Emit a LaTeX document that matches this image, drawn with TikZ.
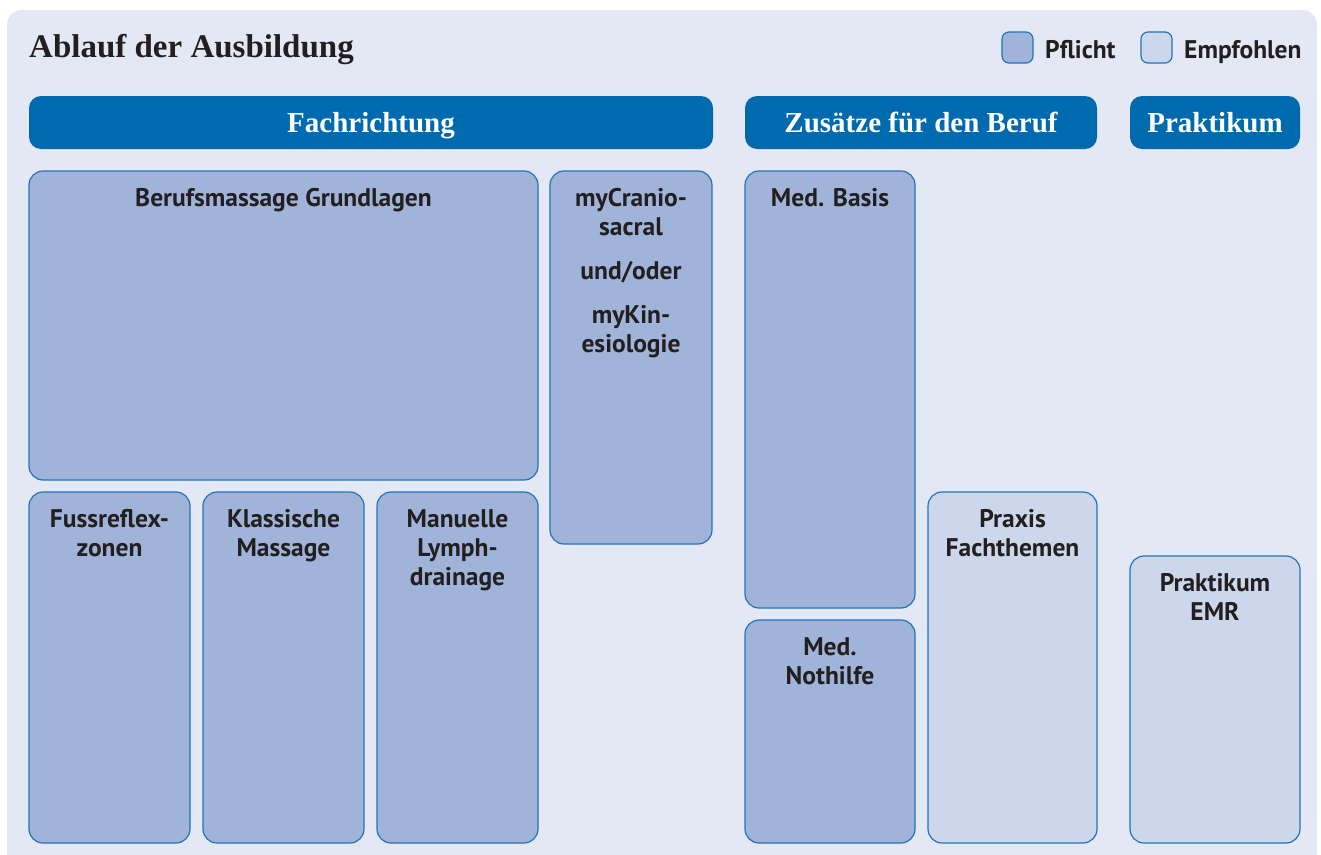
\documentclass[tikz,border=0pt]{standalone}
\usepackage{fontspec}
\setmainfont{Liberation Serif}
\newfontfamily\kastenschrift{PT Sans}
\usetikzlibrary{positioning}

\definecolor{hintergrund}{HTML}{E4E8F4}
\definecolor{balkenblau}{HTML}{006AAE}
\definecolor{randblau}{HTML}{2274BA}
\definecolor{pflichtfarbe}{HTML}{A0B4DA}
\definecolor{empfohlenfarbe}{HTML}{CDD7EB}
\definecolor{schrift}{HTML}{231F20}

\begin{document}
\begin{tikzpicture}[x=1pt, y=-1pt,
  kasten/.style={draw=randblau, line width=1.2pt, rounded corners=14pt,
    anchor=north west, outer sep=0pt, inner sep=0pt},
  pflicht/.style={kasten, fill=pflichtfarbe},
  empfohlen/.style={kasten, fill=empfohlenfarbe},
  balken/.style={fill=balkenblau, rounded corners=12pt, anchor=north west,
    minimum height=53pt, outer sep=0pt, inner sep=0pt, text=white,
    text height=20pt, text depth=0pt,
    font=\bfseries\fontsize{29}{34}\selectfont},
  beschriftung/.style={anchor=north, align=center, inner sep=0pt, text=schrift,
    font=\kastenschrift\bfseries\fontsize{25.5}{29}\selectfont},
  legende/.style={anchor=base west, inner sep=0pt, text=schrift,
    font=\kastenschrift\bfseries\fontsize{25.5}{29}\selectfont}]
  \useasboundingbox (0,0) rectangle (1321,854);
  \clip (0,0) rectangle (1321,854);
  \fill[hintergrund, rounded corners=15pt] (7,10) rectangle (1317,890);

  \node[anchor=base west, inner sep=0pt, text=schrift,
    font=\bfseries\fontsize{33}{38}\selectfont] (titel) at (29,57) {Ablauf der Ausbildung};

  \node[pflicht, rounded corners=7pt, minimum size=31pt] (lpflicht) at (1002,32) {};
  \node[legende] (tpflicht) at ([xshift=12pt, yshift=-10.5pt]lpflicht.east) {Pflicht};
  \node[empfohlen, rounded corners=7pt, minimum size=31pt] (lempf) at (1141,32) {};
  \node[legende] (tempf) at ([xshift=12pt, yshift=-10.5pt]lempf.east) {Empfohlen};

  \node[balken, minimum width=684pt] (fach) at (29,96) {Fachrichtung};
  \node[balken, minimum width=352pt] (zusatz) at (745,96) {Zusätze für den Beruf};
  \node[balken, minimum width=170pt] (praktikum) at (1130,96) {Praktikum};

  \node[pflicht, minimum width=509pt, minimum height=309pt] (grund) at (29,171) {};
  \node[beschriftung, below=17pt of grund.north] {Berufsmassage Grundlagen};
  \node[pflicht, minimum width=162pt, minimum height=373pt] (cranio) at (550,171) {};
  \node[beschriftung, below=17pt of cranio.north]
    {myCranio-\\sacral\\[15pt]und/oder\\[15pt]myKin-\\esiologie};

  \node[pflicht, minimum width=161pt, minimum height=351pt] (fuss) at (29,492) {};
  \node[beschriftung, below=17pt of fuss.north] {Fussreflex-\\zonen};
  \node[pflicht, minimum width=161pt, minimum height=351pt] (klassisch) at (203,492) {};
  \node[beschriftung, below=17pt of klassisch.north] {Klassische\\Massage};
  \node[pflicht, minimum width=161pt, minimum height=351pt] (lymph) at (377,492) {};
  \node[beschriftung, below=17pt of lymph.north] {Manuelle\\Lymph-\\drainage};

  \node[pflicht, minimum width=170pt, minimum height=437pt] (basis) at (745,171) {};
  \node[beschriftung, below=17pt of basis.north] {Med. Basis};
  \node[pflicht, minimum width=170pt, minimum height=223pt] (nothilfe) at (745,620) {};
  \node[beschriftung, below=17pt of nothilfe.north] {Med.\\Nothilfe};
  \node[empfohlen, minimum width=169pt, minimum height=351pt] (praxis) at (928,492) {};
  \node[beschriftung, below=17pt of praxis.north] {Praxis\\Fachthemen};

  \node[empfohlen, minimum width=170pt, minimum height=287pt] (emr) at (1130,556) {};
  \node[beschriftung, below=17pt of emr.north] {Praktikum\\EMR};
\end{tikzpicture}
\end{document}
